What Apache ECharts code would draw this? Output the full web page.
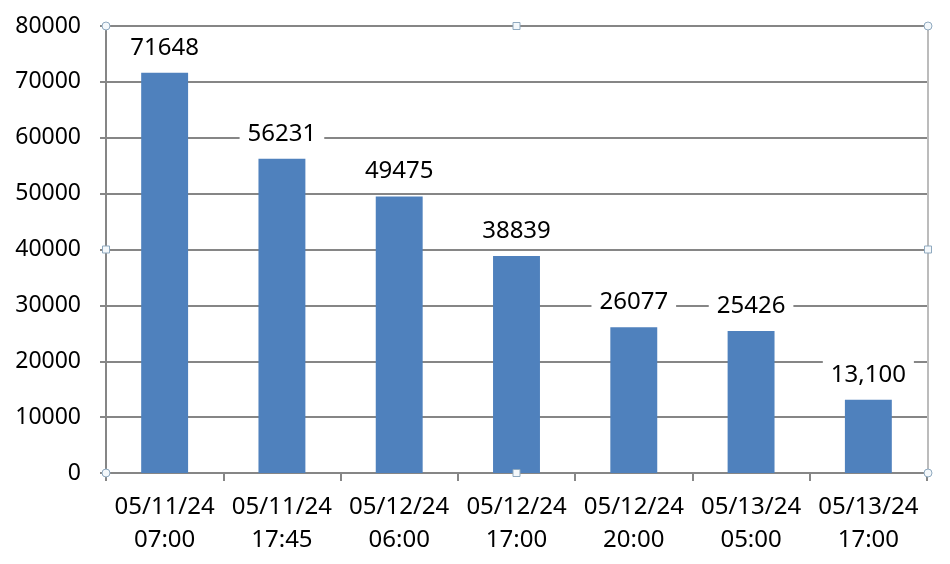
<!DOCTYPE html>
<html>
<head>
<meta charset="utf-8">
<script src="https://cdn.jsdelivr.net/npm/echarts@6/dist/echarts.min.js"></script>
<style>
  html, body { margin: 0; padding: 0; background: #fff; }
  #chart { width: 950px; height: 564px; }
</style>
</head>
<body>
<div id="chart"></div>
<script>
const categories = [
  '05/11/24\n07:00',
  '05/11/24\n17:45',
  '05/12/24\n06:00',
  '05/12/24\n17:00',
  '05/12/24\n20:00',
  '05/13/24\n05:00',
  '05/13/24\n17:00'
]
const values = [71648, 56231, 49475, 38839, 26077, 25426, 13100]
const valueLabels = ['71648', '56231', '49475', '38839', '26077', '25426', '13,100']

const chart = echarts.init(document.getElementById('chart'))

// selection handles around the plot area (as in the screenshot)
const L = 106, R = 927, T = 26, B = 473
const handleStyle = { fill: '#f4f8fb', stroke: '#8fa9bf', lineWidth: 1 }
const circle = (x, y) => ({ type: 'circle', shape: { cx: x, cy: y, r: 4 }, style: handleStyle, z: 100 })
const square = (x, y) => ({ type: 'rect', shape: { x: x - 3.5, y: y - 3.5, width: 7, height: 7 }, style: handleStyle, z: 100 })

const option = {
  animation: false,
  grid: { left: L, right: 950 - R, top: T, bottom: 564 - B },
  xAxis: {
    type: 'category',
    data: categories,
    axisLine: { lineStyle: { color: '#868686', width: 2 } },
    axisTick: { show: true, length: 8, lineStyle: { color: '#868686', width: 2 } },
    axisLabel: {
      color: '#000',
      fontFamily: 'Noto Sans',
      fontSize: 24,
      lineHeight: 33,
      margin: 18,
      interval: 0
    }
  },
  yAxis: {
    type: 'value',
    min: 0,
    max: 80000,
    interval: 10000,
    axisLine: { show: true, lineStyle: { color: '#868686', width: 2 } },
    axisTick: { show: true, length: 6, lineStyle: { color: '#868686', width: 2 } },
    splitLine: { lineStyle: { color: '#868686', width: 2 } },
    axisLabel: {
      color: '#000',
      fontFamily: 'Noto Sans',
      fontSize: 23,
      margin: 25,
      formatter: v => String(v)
    }
  },
  graphic: [
    { type: 'line', shape: { x1: R + 1, y1: T, x2: R + 1, y2: B }, style: { stroke: '#a6a6a6', lineWidth: 1.5 }, z: 99 },
    circle(L, T), circle(R + 1, T), circle(L, B), circle(R + 1, B),
    square((L + R) / 2, T), square(L, (T + B) / 2), square(R + 1, (T + B) / 2), square((L + R) / 2, B)
  ],
  series: [{
    type: 'bar',
    data: values,
    barWidth: '40%',
    itemStyle: { color: '#4F81BD' },
    label: {
      show: true,
      position: 'top',
      distance: 10,
      color: '#000',
      fontFamily: 'Noto Sans',
      fontSize: 24,
      backgroundColor: '#fff',
      padding: [6, 8, 3, 8],
      formatter: p => valueLabels[p.dataIndex]
    }
  }]
}

chart.setOption(option)
</script>
</body>
</html>
